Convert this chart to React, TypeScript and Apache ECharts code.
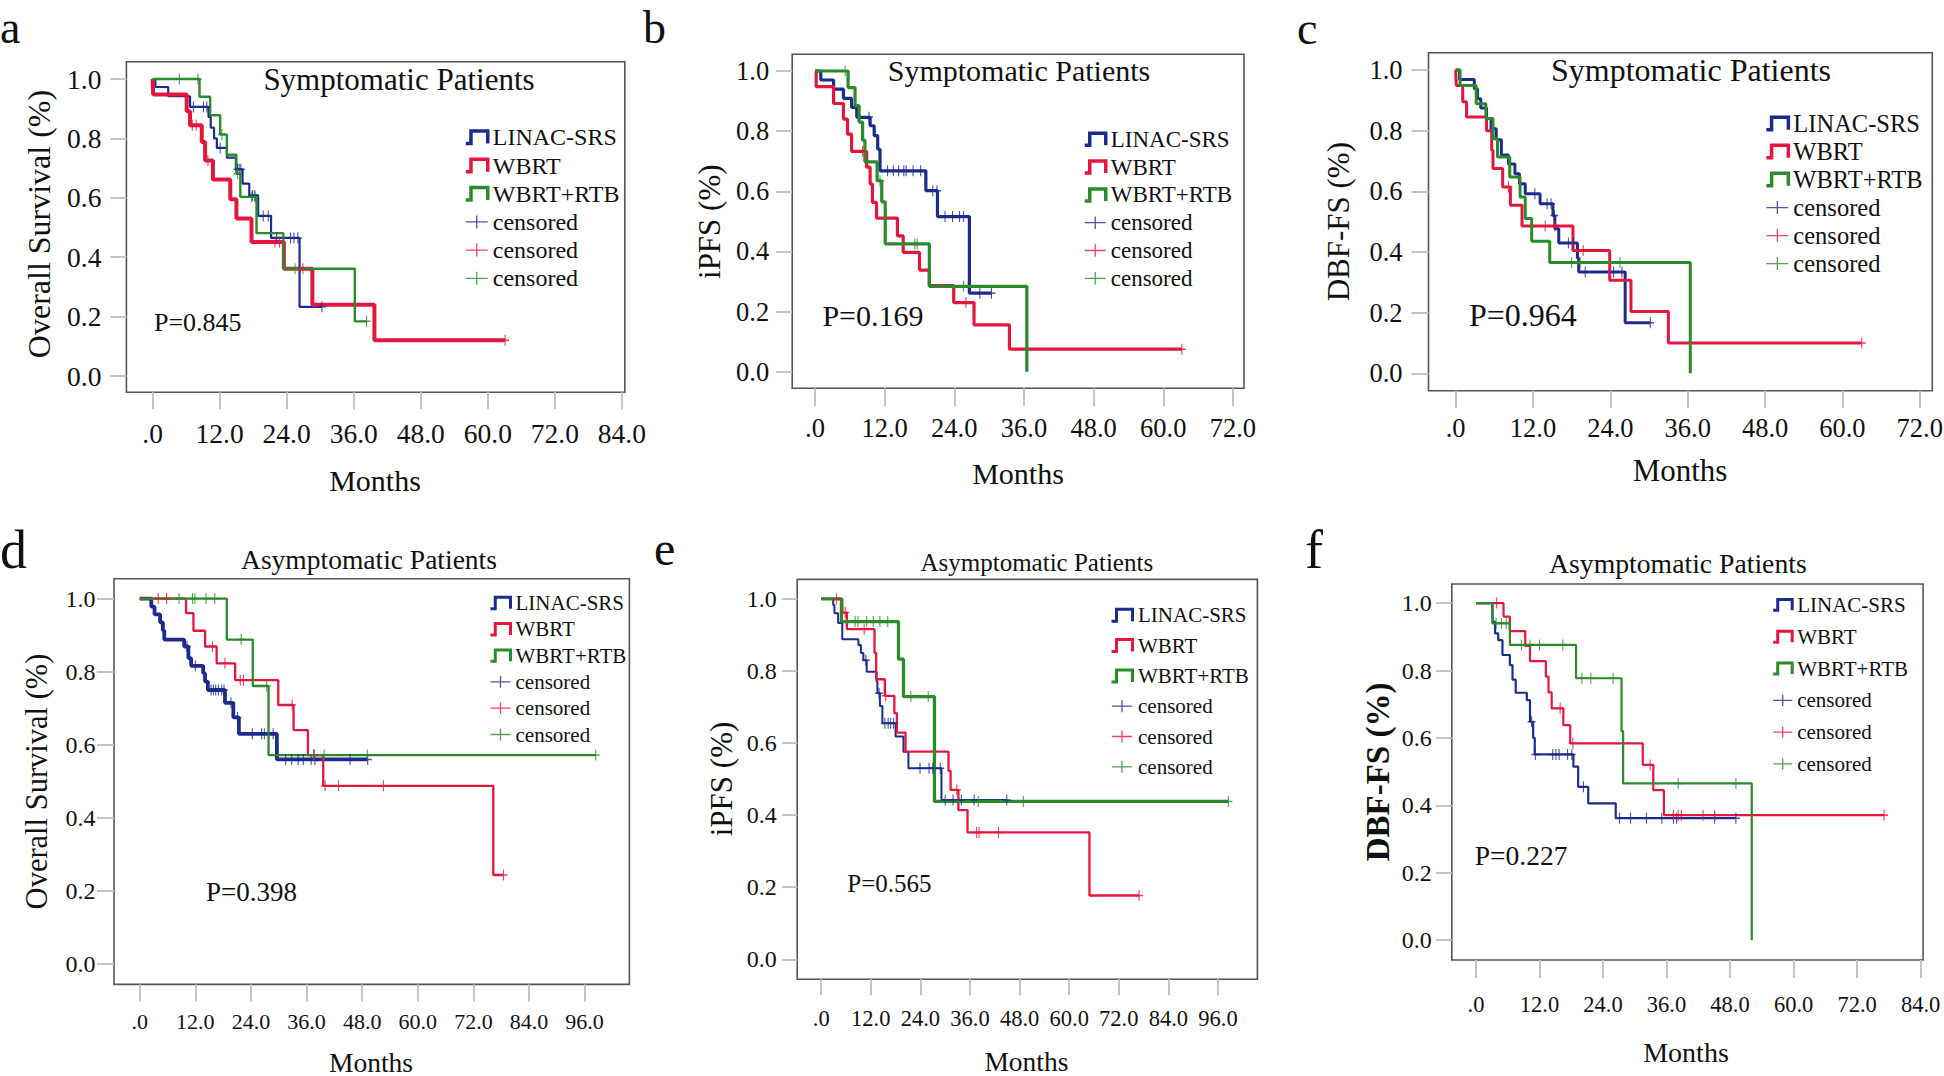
import React, { useEffect, useRef } from 'react';
import * as echarts from 'echarts';

// ---------------- DATA (months, survival after each drop) ----------------
const GROUPS = ['LINAC-SRS', 'WBRT', 'WBRT+RTB'];
const X_TICK_MAX = [84, 72, 72, 96, 96, 84];
const Y_TICKS = [0, 0.2, 0.4, 0.6, 0.8, 1.0];
const P_VALUES = ['P=0.845', 'P=0.169', 'P=0.964', 'P=0.398', 'P=0.565', 'P=0.227'];
const TITLES = ['Symptomatic Patients', 'Symptomatic Patients', 'Symptomatic Patients', 'Asymptomatic Patients', 'Asymptomatic Patients', 'Asymptomatic Patients'];
const Y_NAMES = ['Overall Survival (%)', 'iPFS (%)', 'DBF-FS (%)', 'Overall Survival (%)', 'iPFS (%)', 'DBF-FS (%)'];
const LETTERS = ['a', 'b', 'c', 'd', 'e', 'f'];

// panel a
const aLinac = [[0.5, 0.973], [2.8, 0.942], [6.7, 0.906], [10.0, 0.872], [10.4, 0.836], [11.0, 0.80], [11.5, 0.768], [13.3, 0.735], [14.9, 0.696], [16.1, 0.648], [17.3, 0.608], [18.9, 0.539], [21.2, 0.465], [26.3, 0.233]];
const aLinacC = [7.3, 9.1, 9.7, 12.1, 15.2, 15.5, 15.8, 17.9, 18.3, 19.8, 20.7, 22.2, 24.7, 25.3, 26.0, 30.3];
const aWbrt = [[0.1, 0.948], [6.1, 0.891], [6.7, 0.844], [8.8, 0.788], [9.4, 0.726], [10.8, 0.662], [13.9, 0.595], [15.0, 0.53], [17.7, 0.451], [23.5, 0.361], [28.6, 0.24], [39.7, 0.12]];
const aWbrtC = [7.1, 7.8, 9.9, 21.9, 22.7, 26.9, 63.1];
const aRtb = [[8.4, 0.94], [10.3, 0.878], [12.1, 0.813], [13.3, 0.745], [15.0, 0.681], [15.7, 0.603], [18.6, 0.481], [23.4, 0.361], [36.2, 0.184]];
const aRtbC = [4.8, 8.1, 12.4, 15.2, 17.7, 18.3, 25.5, 38.3];

// panel b
const bLinac = [[1.0, 0.97], [3.2, 0.94], [4.9, 0.909], [6.3, 0.879], [7.2, 0.846], [9.5, 0.818], [10.2, 0.785], [10.8, 0.74], [11.2, 0.668], [19.1, 0.602], [21.1, 0.516], [26.6, 0.261]];
const bLinacC = [9.3, 12.5, 13.5, 14.4, 15.3, 15.7, 16.9, 18.2, 20.3, 21.0, 22.4, 23.7, 24.9, 25.6, 28.4, 30.4];
const bWbrt = [[0.2, 0.948], [3.2, 0.892], [4.9, 0.84], [5.6, 0.79], [6.3, 0.733], [8.9, 0.68], [9.5, 0.624], [9.9, 0.563], [10.6, 0.511], [14.2, 0.452], [15.2, 0.397], [18.0, 0.338], [19.7, 0.286], [23.9, 0.23], [27.4, 0.156], [33.5, 0.075]];
const bWbrtC = [8.2, 26.0, 63.2];
const bRtb = [[5.7, 0.945], [6.9, 0.885], [7.6, 0.83], [8.2, 0.77], [8.6, 0.698], [10.7, 0.635], [11.5, 0.565], [12.1, 0.425], [19.7, 0.284], [36.5, 0]];
const bRtbC = [5.2, 11.2, 17.2, 17.6, 25.6];

// panel c
const cLinac = [[0.6, 0.969], [2.9, 0.938], [3.4, 0.905], [3.9, 0.875], [4.8, 0.84], [5.5, 0.806], [6.3, 0.77], [7.1, 0.72], [8.2, 0.69], [9.2, 0.658], [9.9, 0.625], [10.8, 0.592], [13.1, 0.559], [15.1, 0.52], [15.4, 0.477], [16.0, 0.43], [18.9, 0.38], [19.1, 0.334], [26.3, 0.167]];
const cLinacC = [12.3, 14.2, 14.8, 15.3, 17.5, 18.3, 20.1, 24.5, 25.8, 30.2];
const cWbrt = [[0.1, 0.949], [1.1, 0.895], [1.7, 0.845], [4.8, 0.80], [5.6, 0.735], [5.8, 0.675], [7.3, 0.614], [8.5, 0.554], [10.3, 0.486], [18.2, 0.405], [23.9, 0.307], [27.2, 0.204], [33.0, 0.10]];
const cWbrtC = [8.2, 13.9, 15.4, 19.8, 63.0];
const cRtb = [[0.7, 0.949], [3.2, 0.889], [4.7, 0.84], [5.8, 0.774], [6.5, 0.713], [8.4, 0.647], [10.0, 0.581], [10.8, 0.51], [11.8, 0.435], [14.6, 0.365], [36.4, 0]];
const cRtbC = [18.0, 19.3, 25.5];

// panel d
const dLinac = [[2.5, 0.978], [3.2, 0.957], [4.4, 0.935], [5.0, 0.913], [5.3, 0.888], [9.6, 0.869], [10.5, 0.837], [11.1, 0.816], [13.7, 0.796], [14.1, 0.773], [14.7, 0.75], [18.4, 0.715], [20.2, 0.675], [21.4, 0.63], [29.6, 0.56]];
const dLinacC = [10.2, 12.0, 15.4, 15.9, 16.4, 17.0, 17.7, 18.2, 19.7, 21.1, 24.3, 26.3, 26.9, 28.8, 31.5, 32.8, 34.2, 35.3, 37.0, 37.8, 45.4, 49.2];
const dWbrt = [[10.0, 0.96], [11.6, 0.912], [14.1, 0.869], [16.6, 0.823], [20.6, 0.777], [29.9, 0.709], [33.2, 0.64], [36.3, 0.572], [39.6, 0.488], [76.3, 0.244]];
const dWbrtC = [4.0, 5.8, 15.7, 18.4, 21.7, 22.4, 32.9, 37.7, 40.0, 42.9, 52.6, 78.5];
const dRtb = [[18.8, 0.888], [24.4, 0.761], [27.8, 0.572]];
const dRtbC = [8.5, 11.4, 11.9, 14.3, 16.2, 21.9, 27.4, 37.5, 39.8, 49.1, 98.4];

// panel e
const eLinac = [[2.9, 0.983], [3.2, 0.96], [4.1, 0.933], [5.1, 0.888], [9.0, 0.872], [9.6, 0.85], [10.2, 0.83], [11.0, 0.798], [13.4, 0.77], [13.6, 0.738], [14.2, 0.703], [14.8, 0.655], [18.0, 0.618], [19.9, 0.576], [21.1, 0.53], [29.1, 0.442]];
const eLinacC = [10.8, 14.0, 15.4, 16.2, 16.8, 17.5, 23.9, 26.1, 27.0, 28.8, 30.0, 31.9, 33.9, 37.0, 44.9];
const eWbrt = [[5.1, 0.962], [6.2, 0.916], [12.9, 0.85], [13.3, 0.777], [15.4, 0.731], [17.7, 0.683], [18.3, 0.629], [20.4, 0.576], [30.8, 0.523], [31.3, 0.47], [33.2, 0.414], [35.4, 0.352], [64.9, 0.177]];
const eWbrtC = [3.7, 5.8, 10.4, 15.6, 32.8, 37.6, 38.2, 42.9, 76.9];
const eRtb = [[4.9, 0.937], [18.7, 0.833], [19.9, 0.729], [27.4, 0.438]];
const eRtbC = [8.2, 8.9, 11.0, 12.6, 14.2, 16.1, 21.7, 25.9, 38.0, 48.9, 98.5];

// panel f
const fLinac = [[3.1, 0.945], [3.6, 0.91], [4.2, 0.89], [5.0, 0.846], [6.4, 0.816], [6.9, 0.773], [7.5, 0.734], [9.6, 0.712], [10.2, 0.648], [10.8, 0.60], [11.1, 0.551], [18.4, 0.515], [19.3, 0.455], [21.2, 0.406], [26.4, 0.362]];
const fLinacC = [10.5, 11.2, 14.5, 15.1, 15.7, 17.3, 18.1, 20.3, 27.1, 29.2, 32.2, 35.1, 37.3, 37.9, 45.1, 49.1];
const fWbrt = [[5.2, 0.96], [6.4, 0.917], [9.3, 0.873], [10.2, 0.828], [13.2, 0.782], [13.7, 0.735], [14.3, 0.688], [16.5, 0.638], [17.8, 0.584], [31.5, 0.52], [33.5, 0.445], [35.5, 0.371]];
const fWbrtC = [3.9, 15.9, 18.3, 32.9, 37.3, 38.2, 38.8, 42.9, 45.1, 77.1];
const fRtb = [[3.1, 0.94], [6.4, 0.876], [18.9, 0.777], [27.5, 0.62], [27.8, 0.465], [52.1, 0]];
const fRtbC = [3.8, 4.8, 5.7, 8.6, 10.2, 12.0, 16.4, 20.0, 21.7, 25.9, 38.2, 49.1];

const CURVES = [
  [[aLinac, aLinacC], [aWbrt, aWbrtC], [aRtb, aRtbC]],
  [[bLinac, bLinacC], [bWbrt, bWbrtC], [bRtb, bRtbC]],
  [[cLinac, cLinacC], [cWbrt, cWbrtC], [cRtb, cRtbC]],
  [[dLinac, dLinacC], [dWbrt, dWbrtC], [dRtb, dRtbC]],
  [[eLinac, eLinacC], [eWbrt, eWbrtC], [eRtb, eRtbC]],
  [[fLinac, fLinacC], [fWbrt, fWbrtC], [fRtb, fRtbC]],
];

// ---------------- STYLE / LAYOUT ----------------
const COLORS = ['#1c2c8c', '#e3173e', '#2b8a2b'];
const FONT = '"Liberation Serif", "Times New Roman", serif';
const TXT = '#111111';
const TICK = '#c4c4c4';
const FRAME = '#555555';

// g: pixel box spanned by x 0..X_TICK_MAX and y 0..1 ; f: frame (plot border)
const LAYOUT = [
  { g: [152.6, 79, 469.3, 297], f: [126.4, 61.7, 498.4, 330.6], xFs: 27.5, yFs: 27.5, xM: 27, yM: 25, xT: 17, yT: 16,
    title: [399, 79, 31], months: [375, 480, 30], yt: [39.4, 224, 32, 'normal'], pv: [154, 322.3, 26], letter: [0, 27.5, 46],
    lg: [464, 137.3, 28.2, 24, 22, 13, 3.5], lw: [2.2, 4, 2.4] },
  { g: [815, 71, 417.9, 300.7], f: [792.2, 54.3, 451.8, 334], xFs: 26.5, yFs: 26.5, xM: 26.5, yM: 23, xT: 18, yT: 16,
    title: [1019, 70, 30], months: [1018, 473, 30], yt: [709, 221.7, 31, 'normal'], pv: [822.4, 315, 30], letter: [643, 27.5, 46],
    lg: [1083, 139.3, 27.8, 23, 21, 13, 3.5], lw: [3.2, 3.2, 3.2] },
  { g: [1455.6, 70, 464.2, 303.3], f: [1428.5, 52.7, 503.8, 338], xFs: 26.5, yFs: 26.5, xM: 24, yM: 26, xT: 17, yT: 17,
    title: [1691, 70, 32], months: [1680, 470, 31], yt: [1338, 221.7, 31, 'normal'], pv: [1469, 315, 32], letter: [1297, 28, 46],
    lg: [1764.6, 123.3, 27.5, 24.5, 22, 13, 3.5], lw: [3, 3, 3] },
  { g: [139.7, 598.6, 444.9, 365.6], f: [114, 578.7, 515.4, 405.7], xFs: 22, yFs: 24, xM: 25.6, yM: 18.6, xT: 17, yT: 17,
    title: [369, 559.6, 27.5], months: [371, 1062, 27.5], yt: [37.3, 781.5, 30.5, 'normal'], pv: [206, 892, 27], letter: [0, 549.6, 54],
    lg: [489, 603, 26.3, 21, 20, 12, 3], lw: [3.8, 2.3, 2.3] },
  { g: [821.2, 598.9, 396.8, 360.4], f: [797.2, 579.4, 460.2, 399.8], xFs: 22.5, yFs: 24, xM: 27.3, yM: 20.4, xT: 16, yT: 15,
    title: [1036.8, 562, 25], months: [1026.4, 1061, 27.5], yt: [721.7, 779, 31, 'normal'], pv: [847.3, 883.4, 25], letter: [654, 548.7, 48],
    lg: [1110, 615.3, 30.3, 21, 22, 12, 3], lw: [2, 2.3, 3.3] },
  { g: [1476, 603.1, 444.6, 337.1], f: [1451.8, 584, 471.3, 376], xFs: 22.5, yFs: 24, xM: 32.5, yM: 20, xT: 18, yT: 16,
    title: [1677.9, 563, 27.7], months: [1686, 1052, 28], yt: [1377.6, 772, 33, 'bold'], pv: [1474.8, 855.6, 27.5], letter: [1305, 549.6, 54],
    lg: [1771.7, 604.9, 31.8, 21, 19, 12, 3], lw: [2.2, 2.2, 2.2] },
];

const STEP_ICON = 'path://M0,12 L5,12 L5,0 L21,0 L21,12';
const PLUS_ICON = 'path://M11,0 L11,13 M0,6.5 L22,6.5';
const CENSOR_MARK = 'path://M4,0 L4,11 M0,5.5 L8,5.5';

function stepData(ev: number[][], cens: number[]) {
  const pts: number[][] = [[0, 1]];
  ev.forEach((e) => pts.push([e[0], e[1]]));
  const last = ev[ev.length - 1];
  const end = Math.max(last[0], ...cens);
  if (end > last[0]) pts.push([end, last[1]]);
  return pts;
}
function survAt(ev: number[][], t: number) {
  let v = 1;
  for (const e of ev) if (e[0] <= t) v = e[1];
  return v;
}

function buildOption() {
  const grid: any[] = [];
  const xAxis: any[] = [];
  const yAxis: any[] = [];
  const series: any[] = [];
  const legend: any[] = [];
  const graphic: any[] = [];

  LAYOUT.forEach((L, i) => {
    const xMaxT = X_TICK_MAX[i];
    const pxX = L.g[2] / xMaxT;
    const pxY = L.g[3];
    const xMin = -(L.g[0] - L.f[0]) / pxX;
    const xMax = xMaxT + (L.f[0] + L.f[2] - (L.g[0] + L.g[2])) / pxX;
    const yMax = 1 + (L.g[1] - L.f[1]) / pxY;
    const yMin = -(L.f[1] + L.f[3] - (L.g[1] + L.g[3])) / pxY;
    const xTicks: number[] = [];
    for (let t = 0; t <= xMaxT; t += 12) xTicks.push(t);

    grid.push({
      left: L.f[0], top: L.f[1], width: L.f[2], height: L.f[3], containLabel: false, outerBoundsMode: 'none',
      show: true, borderColor: FRAME, borderWidth: 1.6, backgroundColor: 'transparent',
    });
    xAxis.push({
      type: 'value', gridIndex: i, min: xMin, max: xMax, position: 'bottom',
      axisLine: { show: false, onZero: false }, splitLine: { show: false },
      axisTick: { show: true, inside: false, customValues: xTicks, length: L.xT, lineStyle: { color: TICK, width: 2 } },
      axisLabel: { customValues: xTicks, margin: L.xM, fontSize: L.xFs, fontFamily: FONT, color: TXT, formatter: (v: number) => (Math.abs(v) < 1e-9 ? '.0' : v.toFixed(1)) },
    });
    yAxis.push({
      type: 'value', gridIndex: i, min: yMin, max: yMax, position: 'left',
      axisLine: { show: false, onZero: false }, splitLine: { show: false },
      axisTick: { show: true, inside: false, customValues: Y_TICKS, length: L.yT, lineStyle: { color: TICK, width: 2 } },
      axisLabel: { customValues: Y_TICKS, margin: L.yM, fontSize: L.yFs, fontFamily: FONT, color: TXT, formatter: (v: number) => v.toFixed(1) },
    });

    CURVES[i].forEach((c, k) => {
      const ev = c[0] as number[][];
      const cens = c[1] as number[];
      series.push({
        type: 'line', name: GROUPS[k], xAxisIndex: i, yAxisIndex: i, step: 'end', symbol: 'none', showSymbol: false,
        clip: false, silent: true, data: stepData(ev, cens),
        lineStyle: { color: COLORS[k], width: L.lw[k] }, itemStyle: { color: COLORS[k] }, z: 2,
      });
      series.push({
        type: 'scatter', name: 'censored-' + (k + 1), xAxisIndex: i, yAxisIndex: i, clip: false, silent: true,
        symbol: CENSOR_MARK, symbolSize: [8, 11],
        itemStyle: { color: 'transparent', borderColor: COLORS[k], borderWidth: 1.3 },
        data: cens.map((t) => [t, survAt(ev, t)]), z: 3,
      });
    });

    const [lx, ly, lgap, lfs, iw, ih, bw] = L.lg as number[];
    legend.push({
      orient: 'vertical', left: lx, top: ly - lfs / 2, itemWidth: iw, itemHeight: ih, itemGap: lgap - lfs, padding: 0,
      selectedMode: false,
      textStyle: { fontSize: lfs, fontFamily: FONT, color: TXT, lineHeight: lfs },
      formatter: (n: string) => (n.indexOf('censored') === 0 ? 'censored' : n),
      data: [
        ...GROUPS.map((g, k) => ({ name: g, icon: STEP_ICON, itemStyle: { color: 'transparent', borderColor: COLORS[k], borderWidth: bw } })),
        ...GROUPS.map((g, k) => ({ name: 'censored-' + (k + 1), icon: PLUS_ICON, itemStyle: { color: 'transparent', borderColor: COLORS[k], borderWidth: 1.3 } })),
      ],
    });

    graphic.push({
      type: 'text', silent: true, x: L.title[0], y: L.title[1],
      style: { text: TITLES[i], fontSize: L.title[2], fontFamily: FONT, fill: TXT, textAlign: 'center', textVerticalAlign: 'middle' },
    });
    graphic.push({
      type: 'text', silent: true, x: L.months[0], y: L.months[1],
      style: { text: 'Months', fontSize: L.months[2], fontFamily: FONT, fill: TXT, textAlign: 'center', textVerticalAlign: 'middle' },
    });
    graphic.push({
      type: 'text', silent: true, x: L.yt[0] as number, y: L.yt[1] as number, rotation: Math.PI / 2,
      style: { text: Y_NAMES[i], fontSize: L.yt[2] as number, fontWeight: L.yt[3] as string, fontFamily: FONT, fill: TXT, textAlign: 'center', textVerticalAlign: 'middle' },
    });
    graphic.push({
      type: 'text', silent: true, x: L.pv[0], y: L.pv[1],
      style: { text: P_VALUES[i], fontSize: L.pv[2], fontFamily: FONT, fill: TXT, textAlign: 'left', textVerticalAlign: 'middle' },
    });
    graphic.push({
      type: 'text', silent: true, x: L.letter[0], y: L.letter[1],
      style: { text: LETTERS[i], fontSize: L.letter[2], fontFamily: FONT, fill: TXT, textAlign: 'left', textVerticalAlign: 'middle' },
    });
  });

  return { animation: false, backgroundColor: '#ffffff', grid, xAxis, yAxis, series, legend, graphic };
}

export default function App() {
  const ref = useRef<HTMLDivElement>(null);
  useEffect(() => {
    document.body.style.margin = '0';
    if (!ref.current) return;
    const chart = echarts.init(ref.current, undefined, { renderer: 'svg' });
    chart.setOption(buildOption() as any);
    return () => chart.dispose();
  }, []);
  return (
    <div style={{ position: 'absolute', left: 0, top: 0, width: 1944, height: 1076, background: '#fff' }}>
      <div ref={ref} style={{ width: 1944, height: 1076 }} />
    </div>
  );
}
